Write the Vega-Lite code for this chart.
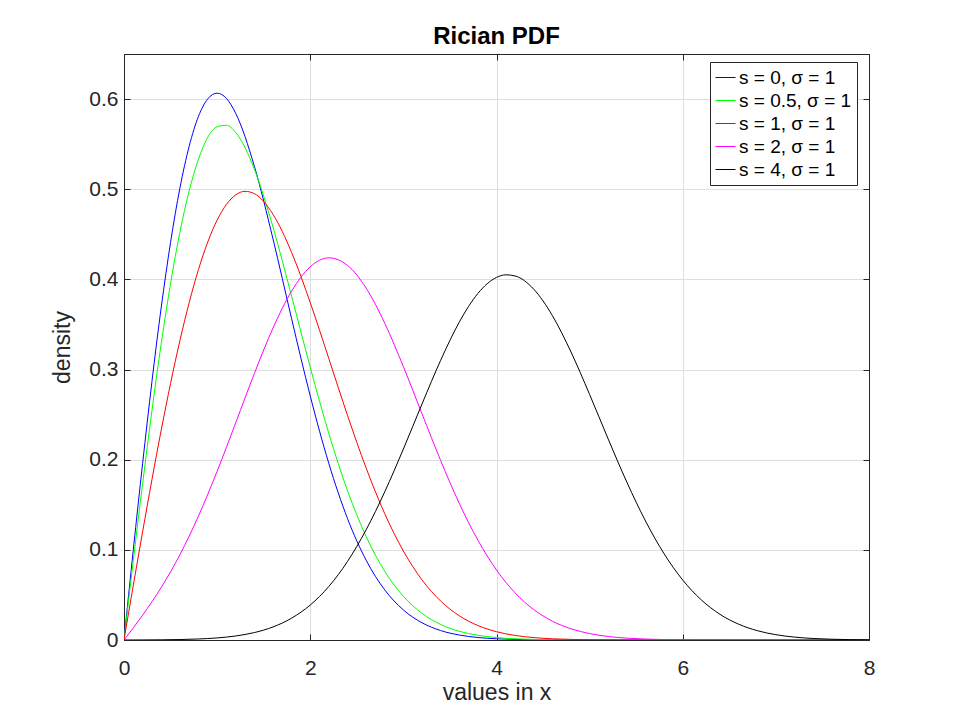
{
  "$schema": "https://vega.github.io/schema/vega-lite/v6.json",
  "autosize": "none",
  "width": 745,
  "height": 586,
  "padding": {"left": 124, "top": 54, "right": 91, "bottom": 80},
  "background": "white",
  "title": {
    "text": "Rician PDF",
    "fontSize": 24,
    "fontWeight": "bold",
    "font": "Liberation Sans",
    "color": "#000000",
    "offset": 5
  },
  "data": {
    "values": [
      {"s": 0, "x": 0, "y": 0}, {"s": 0, "x": 0.2, "y": 0.19604}, {"s": 0, "x": 0.4, "y": 0.36925},
      {"s": 0, "x": 0.6, "y": 0.50116}, {"s": 0, "x": 0.8, "y": 0.58092}, {"s": 0, "x": 0.9, "y": 0.60028},
      {"s": 0, "x": 1.0, "y": 0.60653}, {"s": 0, "x": 1.1, "y": 0.60068}, {"s": 0, "x": 1.2, "y": 0.5841},
      {"s": 0, "x": 1.4, "y": 0.52544}, {"s": 0, "x": 1.6, "y": 0.44486}, {"s": 0, "x": 1.8, "y": 0.35622},
      {"s": 0, "x": 2.0, "y": 0.27067}, {"s": 0, "x": 2.2, "y": 0.19563}, {"s": 0, "x": 2.4, "y": 0.13472},
      {"s": 0, "x": 2.6, "y": 0.08852}, {"s": 0, "x": 2.8, "y": 0.05555}, {"s": 0, "x": 3.0, "y": 0.03333},
      {"s": 0, "x": 3.2, "y": 0.01912}, {"s": 0, "x": 3.4, "y": 0.0105}, {"s": 0, "x": 3.6, "y": 0.00552},
      {"s": 0, "x": 3.8, "y": 0.00278}, {"s": 0, "x": 4.0, "y": 0.00134}, {"s": 0, "x": 4.2, "y": 0.00062},
      {"s": 0, "x": 4.4, "y": 0.00028}, {"s": 0, "x": 4.6, "y": 0.00012}, {"s": 0, "x": 5.0, "y": 0.00002},
      {"s": 0, "x": 6.0, "y": 0}, {"s": 0, "x": 7.0, "y": 0}, {"s": 0, "x": 8.0, "y": 0},

      {"s": 0.5, "x": 0, "y": 0}, {"s": 0.5, "x": 0.2, "y": 0.17344}, {"s": 0.5, "x": 0.4, "y": 0.32913},
      {"s": 0.5, "x": 0.6, "y": 0.45228}, {"s": 0.5, "x": 0.8, "y": 0.53337}, {"s": 0.5, "x": 1.0, "y": 0.56924},
      {"s": 0.5, "x": 1.1, "y": 0.57095}, {"s": 0.5, "x": 1.2, "y": 0.56291}, {"s": 0.5, "x": 1.4, "y": 0.52226},
      {"s": 0.5, "x": 1.6, "y": 0.45796}, {"s": 0.5, "x": 1.8, "y": 0.38132}, {"s": 0.5, "x": 2.0, "y": 0.30242},
      {"s": 0.5, "x": 2.2, "y": 0.22895}, {"s": 0.5, "x": 2.4, "y": 0.1657}, {"s": 0.5, "x": 2.6, "y": 0.11478},
      {"s": 0.5, "x": 2.8, "y": 0.07615}, {"s": 0.5, "x": 3.0, "y": 0.04844}, {"s": 0.5, "x": 3.2, "y": 0.02953},
      {"s": 0.5, "x": 3.4, "y": 0.01727}, {"s": 0.5, "x": 3.6, "y": 0.00969}, {"s": 0.5, "x": 3.8, "y": 0.00522},
      {"s": 0.5, "x": 4.0, "y": 0.0027}, {"s": 0.5, "x": 4.2, "y": 0.00134}, {"s": 0.5, "x": 4.4, "y": 0.00064},
      {"s": 0.5, "x": 4.6, "y": 0.00029}, {"s": 0.5, "x": 4.8, "y": 0.00013}, {"s": 0.5, "x": 5.0, "y": 0.00005},
      {"s": 0.5, "x": 6.0, "y": 0}, {"s": 0.5, "x": 7.0, "y": 0}, {"s": 0.5, "x": 8.0, "y": 0},

      {"s": 1, "x": 0, "y": 0}, {"s": 1, "x": 0.2, "y": 0.1201}, {"s": 1, "x": 0.4, "y": 0.23301},
      {"s": 1, "x": 0.6, "y": 0.33195}, {"s": 1, "x": 0.8, "y": 0.41102}, {"s": 1, "x": 1.0, "y": 0.46576},
      {"s": 1, "x": 1.2, "y": 0.49377}, {"s": 1, "x": 1.3, "y": 0.49765}, {"s": 1, "x": 1.4, "y": 0.49506},
      {"s": 1, "x": 1.6, "y": 0.47218}, {"s": 1, "x": 1.8, "y": 0.42986}, {"s": 1, "x": 2.0, "y": 0.37424},
      {"s": 1, "x": 2.2, "y": 0.31196}, {"s": 1, "x": 2.4, "y": 0.24916}, {"s": 1, "x": 2.6, "y": 0.19077},
      {"s": 1, "x": 2.8, "y": 0.14007}, {"s": 1, "x": 3.0, "y": 0.09866}, {"s": 1, "x": 3.2, "y": 0.06666},
      {"s": 1, "x": 3.4, "y": 0.04322}, {"s": 1, "x": 3.6, "y": 0.02689}, {"s": 1, "x": 3.8, "y": 0.01606},
      {"s": 1, "x": 4.0, "y": 0.0092}, {"s": 1, "x": 4.2, "y": 0.00505}, {"s": 1, "x": 4.4, "y": 0.00267},
      {"s": 1, "x": 4.6, "y": 0.00135}, {"s": 1, "x": 4.8, "y": 0.00066}, {"s": 1, "x": 5.0, "y": 0.00031},
      {"s": 1, "x": 5.2, "y": 0.00014}, {"s": 1, "x": 5.4, "y": 0.00006}, {"s": 1, "x": 5.6, "y": 0.00003},
      {"s": 1, "x": 6.0, "y": 0}, {"s": 1, "x": 7.0, "y": 0}, {"s": 1, "x": 8.0, "y": 0},

      {"s": 2, "x": 0, "y": 0}, {"s": 2, "x": 0.2, "y": 0.0276}, {"s": 2, "x": 0.4, "y": 0.05829},
      {"s": 2, "x": 0.6, "y": 0.09453}, {"s": 2, "x": 0.8, "y": 0.13758}, {"s": 2, "x": 1.0, "y": 0.18712},
      {"s": 2, "x": 1.2, "y": 0.24104}, {"s": 2, "x": 1.4, "y": 0.29562}, {"s": 2, "x": 1.6, "y": 0.34601},
      {"s": 2, "x": 1.8, "y": 0.38701}, {"s": 2, "x": 2.0, "y": 0.414}, {"s": 2, "x": 2.2, "y": 0.42388},
      {"s": 2, "x": 2.4, "y": 0.41559}, {"s": 2, "x": 2.6, "y": 0.39033}, {"s": 2, "x": 2.8, "y": 0.35139},
      {"s": 2, "x": 3.0, "y": 0.30324}, {"s": 2, "x": 3.2, "y": 0.25094}, {"s": 2, "x": 3.4, "y": 0.19916},
      {"s": 2, "x": 3.6, "y": 0.15164}, {"s": 2, "x": 3.8, "y": 0.11077}, {"s": 2, "x": 4.0, "y": 0.07765},
      {"s": 2, "x": 4.2, "y": 0.05223}, {"s": 2, "x": 4.4, "y": 0.03372}, {"s": 2, "x": 4.6, "y": 0.0209},
      {"s": 2, "x": 4.8, "y": 0.01243}, {"s": 2, "x": 5.0, "y": 0.0071}, {"s": 2, "x": 5.2, "y": 0.00389},
      {"s": 2, "x": 5.4, "y": 0.00205}, {"s": 2, "x": 5.6, "y": 0.00104}, {"s": 2, "x": 5.8, "y": 0.0005},
      {"s": 2, "x": 6.0, "y": 0.00023}, {"s": 2, "x": 6.2, "y": 0.0001}, {"s": 2, "x": 6.4, "y": 0.000045},
      {"s": 2, "x": 6.6, "y": 0.00002}, {"s": 2, "x": 7.0, "y": 0.000003}, {"s": 2, "x": 8.0, "y": 0},

      {"s": 4, "x": 0, "y": 0}, {"s": 4, "x": 0.2, "y": 0.00008}, {"s": 4, "x": 0.4, "y": 0.00022},
      {"s": 4, "x": 0.6, "y": 0.00051}, {"s": 4, "x": 0.8, "y": 0.00112}, {"s": 4, "x": 1.0, "y": 0.0023},
      {"s": 4, "x": 1.2, "y": 0.00447}, {"s": 4, "x": 1.4, "y": 0.00824}, {"s": 4, "x": 1.6, "y": 0.01447},
      {"s": 4, "x": 1.8, "y": 0.02425}, {"s": 4, "x": 2.0, "y": 0.03882}, {"s": 4, "x": 2.2, "y": 0.05944},
      {"s": 4, "x": 2.4, "y": 0.08711}, {"s": 4, "x": 2.6, "y": 0.12225}, {"s": 4, "x": 2.8, "y": 0.16438},
      {"s": 4, "x": 3.0, "y": 0.21185}, {"s": 4, "x": 3.2, "y": 0.26176}, {"s": 4, "x": 3.4, "y": 0.31017},
      {"s": 4, "x": 3.6, "y": 0.35253}, {"s": 4, "x": 3.8, "y": 0.3844}, {"s": 4, "x": 4.0, "y": 0.40218},
      {"s": 4, "x": 4.1, "y": 0.40506}, {"s": 4, "x": 4.2, "y": 0.40379}, {"s": 4, "x": 4.4, "y": 0.38908},
      {"s": 4, "x": 4.6, "y": 0.35985}, {"s": 4, "x": 4.8, "y": 0.31947}, {"s": 4, "x": 5.0, "y": 0.27227},
      {"s": 4, "x": 5.2, "y": 0.22278}, {"s": 4, "x": 5.4, "y": 0.175}, {"s": 4, "x": 5.6, "y": 0.132},
      {"s": 4, "x": 5.8, "y": 0.09559}, {"s": 4, "x": 6.0, "y": 0.06648}, {"s": 4, "x": 6.2, "y": 0.04439},
      {"s": 4, "x": 6.4, "y": 0.02847}, {"s": 4, "x": 6.6, "y": 0.01753}, {"s": 4, "x": 6.8, "y": 0.01037},
      {"s": 4, "x": 7.0, "y": 0.00589}, {"s": 4, "x": 7.2, "y": 0.00321}, {"s": 4, "x": 7.4, "y": 0.00168},
      {"s": 4, "x": 7.6, "y": 0.00085}, {"s": 4, "x": 7.8, "y": 0.00041}, {"s": 4, "x": 8.0, "y": 0.00019}
    ]
  },
  "layer": [
    {
      "mark": {"type": "line", "strokeWidth": 1, "interpolate": "monotone", "clip": true},
      "encoding": {
        "x": {
          "field": "x",
          "type": "quantitative",
          "scale": {"domain": [0, 8], "nice": false, "zero": false},
          "axis": {
            "title": "values in x",
            "values": [0, 2, 4, 6, 8],
            "format": "d",
            "labelFlush": false,
            "labelPadding": 23,
            "titlePadding": 3
          }
        },
        "y": {
          "field": "y",
          "type": "quantitative",
          "scale": {"domain": [0, 0.65], "nice": false},
          "axis": {
            "title": "density",
            "values": [0, 0.1, 0.2, 0.3, 0.4, 0.5, 0.6],
            "format": "~g",
            "labelFlush": false,
            "labelPadding": 12,
            "titlePadding": 14
          }
        },
        "color": {
          "field": "s",
          "type": "nominal",
          "scale": {
            "domain": [0, 0.5, 1, 2, 4],
            "range": ["#0000ff", "#00ff00", "#ff0000", "#ff00ff", "#000000"]
          },
          "legend": {
            "title": null,
            "orient": "none",
            "legendX": 586,
            "legendY": 8,
            "labelExpr": "'s = ' + datum.label + ', σ = 1'",
            "symbolType": "stroke",
            "symbolSize": 400,
            "symbolStrokeWidth": 1,
            "labelFontSize": 19,
            "labelFont": "Liberation Sans",
            "labelColor": "#000000",
            "labelOffset": 3,
            "rowPadding": 2,
            "padding": 5,
            "strokeColor": "#262626",
            "fillColor": "#ffffff",
            "cornerRadius": 0
          }
        }
      }
    },
    {
      "mark": {"type": "line", "opacity": 0},
      "encoding": {
        "x": {
          "field": "x",
          "type": "quantitative",
          "axis": {"orient": "top", "values": [0, 2, 4, 6, 8], "labels": false, "title": null, "grid": false}
        },
        "y": {
          "field": "y",
          "type": "quantitative",
          "axis": {"orient": "right", "values": [0, 0.1, 0.2, 0.3, 0.4, 0.5, 0.6], "labels": false, "title": null, "grid": false}
        }
      }
    }
  ],
  "resolve": {"axis": {"x": "independent", "y": "independent"}},
  "config": {
    "font": "Liberation Sans",
    "view": {"stroke": "#262626", "strokeWidth": 1},
    "axis": {
      "domainColor": "#262626",
      "tickColor": "#262626",
      "tickSize": -6,
      "gridColor": "#dedede",
      "grid": true,
      "labelFontSize": 21,
      "labelColor": "#262626",
      "labelFont": "Liberation Sans",
      "titleFontSize": 23,
      "titleFontWeight": "normal",
      "titleColor": "#262626",
      "titleFont": "Liberation Sans"
    }
  }
}
